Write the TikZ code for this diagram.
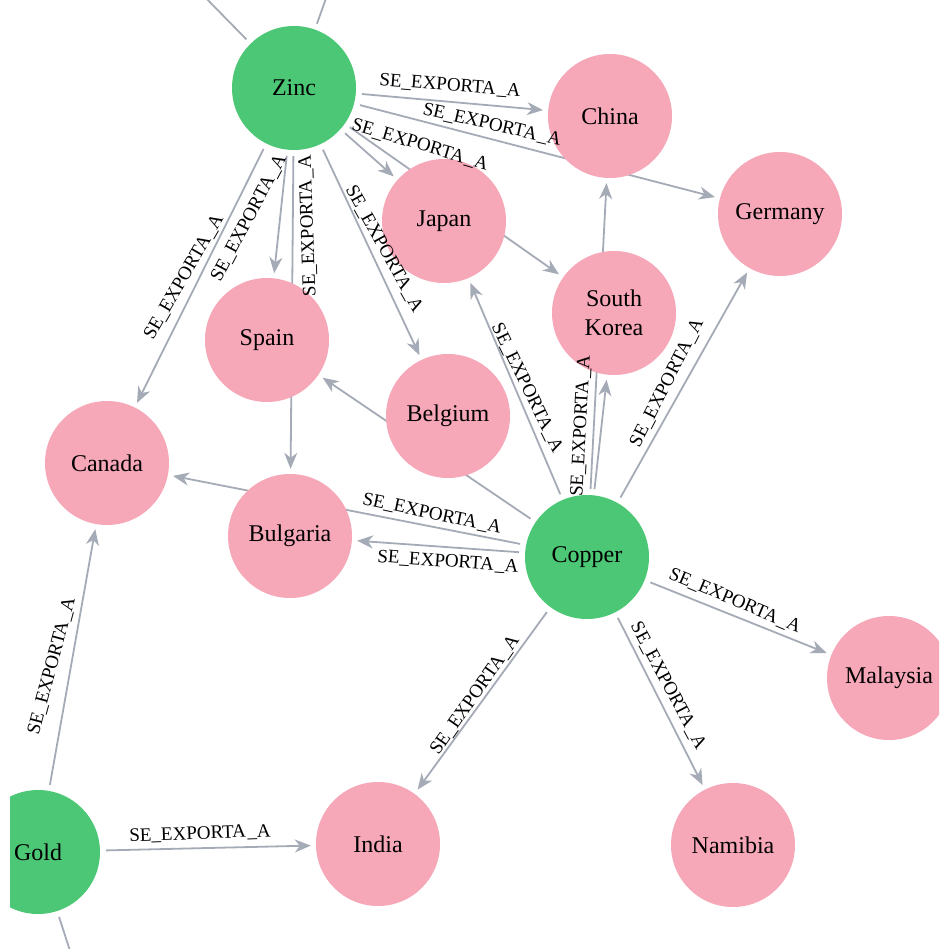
\documentclass[tikz,border=0pt]{standalone}
\usepackage{fontspec}
\setmainfont{Liberation Serif}
\usetikzlibrary{arrows.meta}
\definecolor{oreGreen}{RGB}{76,199,117}
\definecolor{landPink}{RGB}{246,167,184}
\definecolor{linkGray}{RGB}{165,171,182}
\pgfdeclarelayer{paper}
\pgfdeclarelayer{links}
\pgfsetlayers{paper,links,main}
\newcommand\relname{SE\_EXPORTA\kern1.5pt\_A}

\begin{document}
\begin{tikzpicture}[x=1pt,y=-1pt,
  ore/.style={circle,fill=oreGreen,minimum size=124pt,inner sep=0pt,
    font=\fontsize{24}{29}\selectfont,text=black,align=center},
  land/.style={ore,fill=landPink},
  link/.style={draw=linkGray,line width=1.8pt,
    -{Stealth[length=16pt,width=13pt,inset=5pt]},shorten >=5pt,shorten <=6pt},
  tail/.style={draw=linkGray,line width=1.8pt,shorten <=6pt},
  rel/.style={font=\fontsize{19}{21}\selectfont,inner sep=0pt,text=black}]

\useasboundingbox (0,0) rectangle (939,949);
\begin{pgfonlayer}{paper}
  \fill[white] (0,0) rectangle (939,949);
\end{pgfonlayer}
\clip (10,0) rectangle (939,949);

% minerals
\node[ore]  (zinc)     at (294,88)  {Zinc};
\node[ore]  (copper)   at (587,557) {Copper};
\node[ore]  (gold)     at (38,852)  {Gold};
% countries
\node[land] (china)    at (610,116) {China};
\node[land] (germany)  at (780,214) {Germany};
\node[land] (japan)    at (444,221) {Japan};
\node[land] (korea)    at (614,313) {South\\Korea};
\node[land] (spain)    at (267,340) {Spain};
\node[land] (belgium)  at (448,416) {Belgium};
\node[land] (canada)   at (107,463) {Canada};
\node[land] (bulgaria) at (290,536) {Bulgaria};
\node[land] (malaysia) at (889,678) {Malaysia};
\node[land] (india)    at (378,844) {India};
\node[land] (namibia)  at (733,845) {Namibia};

% loose ends leaving the frame
\coordinate (zincUL)  at (198,-10);
\coordinate (zincUp)  at (329,-10);
\coordinate (goldDn)  at (73,960);

% export relations, drawn beneath the circles
\begin{pgfonlayer}{links}
  \draw[link] (zinc) -- (china);
  \draw[link] (zinc) -- (germany);
  \draw[link] (zinc) -- (japan);
  \draw[link] (zinc) -- (korea);
  \draw[link] (zinc) -- (canada);
  \draw[link] (zinc) -- (spain);
  \draw[link] (zinc) -- (bulgaria);
  \draw[link] (zinc) -- (belgium);
  \draw[link] (copper) -- (japan);
  \draw[link] (copper) -- (korea);
  \draw[link] (copper) -- (china);
  \draw[link] (copper) -- (germany);
  \draw[link] (copper) -- (spain);
  \draw[link] (copper) -- (canada);
  \draw[link] (copper) -- (bulgaria);
  \draw[link] (copper) -- (malaysia);
  \draw[link] (copper) -- (namibia);
  \draw[link] (copper) -- (india);
  \draw[link] (gold) -- (india);
  \draw[link] (gold) -- (canada);
  \draw[tail] (zinc) -- (zincUL);
  \draw[tail] (zinc) -- (zincUp);
  \draw[tail] (gold) -- (goldDn);
\end{pgfonlayer}

% relation labels
\node[rel,rotate=-4.5] (r1)  at (450,86)  {\relname};
\node[rel,rotate=-13]  (r2)  at (492,125) {\relname};
\node[rel,rotate=-16.5](r3)  at (420,145) {\relname};
\node[rel,rotate=60]   (r4)  at (184,277) {\relname};
\node[rel,rotate=62]   (r5)  at (249,218) {\relname};
\node[rel,rotate=92]   (r6)  at (308,226) {\relname};
\node[rel,rotate=-61]  (r7)  at (384,249) {\relname};
\node[rel,rotate=-64]  (r8)  at (527,388) {\relname};
\node[rel,rotate=87]   (r9)  at (581,426) {\relname};
\node[rel,rotate=63]   (r10) at (667,383) {\relname};
\node[rel,rotate=-12]  (r11) at (432,514) {\relname};
\node[rel,rotate=-4]   (r12) at (448,562) {\relname};
\node[rel,rotate=-23]  (r13) at (735,601) {\relname};
\node[rel,rotate=-62]  (r14) at (668,686) {\relname};
\node[rel,rotate=55]   (r15) at (475,695) {\relname};
\node[rel,rotate=2]    (r16) at (200,834) {\relname};
\node[rel,rotate=75]   (r17) at (52,666)  {\relname};
\end{tikzpicture}
\end{document}
